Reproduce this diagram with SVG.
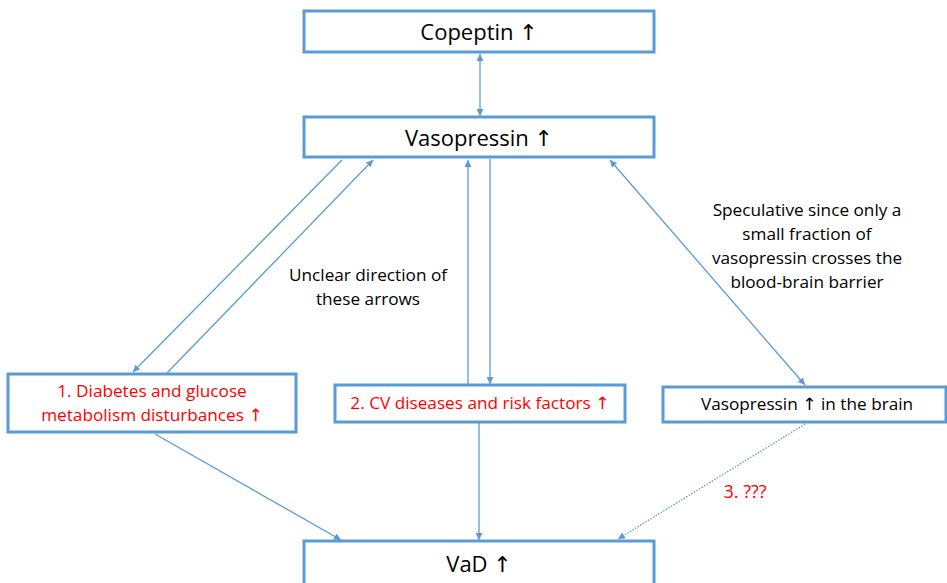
<svg xmlns="http://www.w3.org/2000/svg" width="947" height="583" viewBox="0 0 947 583">
<style>
.box{fill:#fff;stroke:#5B9BD5;stroke-width:3}
.t{font-family:"Open Sans","Liberation Sans",sans-serif;text-anchor:middle;fill:#000}
.big{font-size:22px}
.sm{font-size:17.2px}
.red{fill:#FF0000}
.ar{font-family:"DejaVu Sans",sans-serif}
.c{stroke:#5B9BD5;stroke-width:1.3;fill:none}
</style>
<defs>
<marker id="ah" viewBox="0 0 10 10" refX="10" refY="5" markerWidth="7" markerHeight="7" markerUnits="userSpaceOnUse" orient="auto-start-reverse">
<path d="M0,0 L10,5 L0,10 Z" fill="#5B9BD5"/>
</marker>
</defs>
<g id="connectors">
<line class="c" x1="480" y1="54" x2="480" y2="116" marker-start="url(#ah)" marker-end="url(#ah)"/>
<line class="c" x1="342" y1="160" x2="133" y2="372" marker-end="url(#ah)"/>
<line class="c" x1="167" y1="373" x2="373" y2="160" marker-end="url(#ah)"/>
<line class="c" x1="468" y1="384" x2="468" y2="160" marker-end="url(#ah)"/>
<line class="c" x1="490" y1="159" x2="490" y2="384" marker-end="url(#ah)"/>
<line class="c" x1="610" y1="160" x2="805" y2="385" marker-start="url(#ah)" marker-end="url(#ah)"/>
<line class="c" x1="155" y1="434" x2="341" y2="540" marker-end="url(#ah)"/>
<line class="c" x1="479" y1="423" x2="479" y2="540" marker-end="url(#ah)"/>
<line class="c" x1="805" y1="424" x2="618" y2="539" stroke-dasharray="1.5 1.5" marker-end="url(#ah)"/>
</g>
<g id="copeptin">
<rect class="box" x="304" y="11" width="350" height="41"/>
<text class="t big" x="479" y="40">Copeptin <tspan class="ar">↑</tspan></text>
</g>
<g id="vasopressin">
<rect class="box" x="304" y="117" width="350" height="40"/>
<text class="t big" x="479" y="146">Vasopressin <tspan class="ar">↑</tspan></text>
</g>
<g id="diabetes">
<rect class="box" x="8" y="374" width="288" height="58"/>
<text class="t sm red" x="152" y="397">1. Diabetes and glucose</text>
<text class="t sm red" x="152" y="421">metabolism disturbances <tspan class="ar">↑</tspan></text>
</g>
<g id="cv">
<rect class="box" x="335" y="385" width="290" height="37"/>
<text class="t sm red" x="480" y="409">2. CV diseases and risk factors <tspan class="ar">↑</tspan></text>
</g>
<g id="brain">
<rect class="box" x="663" y="387" width="283" height="35"/>
<text class="t sm" x="807" y="410">Vasopressin <tspan class="ar">↑</tspan> in the brain</text>
</g>
<g id="vad">
<rect class="box" x="304" y="541" width="350" height="50"/>
<text class="t big" x="479" y="572">VaD <tspan class="ar">↑</tspan></text>
</g>
<g id="labels">
<text class="t sm" x="368" y="281">Unclear direction of</text>
<text class="t sm" x="368" y="305">these arrows</text>
<text class="t sm" x="807" y="216">Speculative since only a</text>
<text class="t sm" x="807" y="240">small fraction of</text>
<text class="t sm" x="807" y="264">vasopressin crosses the</text>
<text class="t sm" x="807" y="288">blood-brain barrier</text>
<text class="t red" style="font-size:18px" x="745" y="498">3. ???</text>
</g>
</svg>
